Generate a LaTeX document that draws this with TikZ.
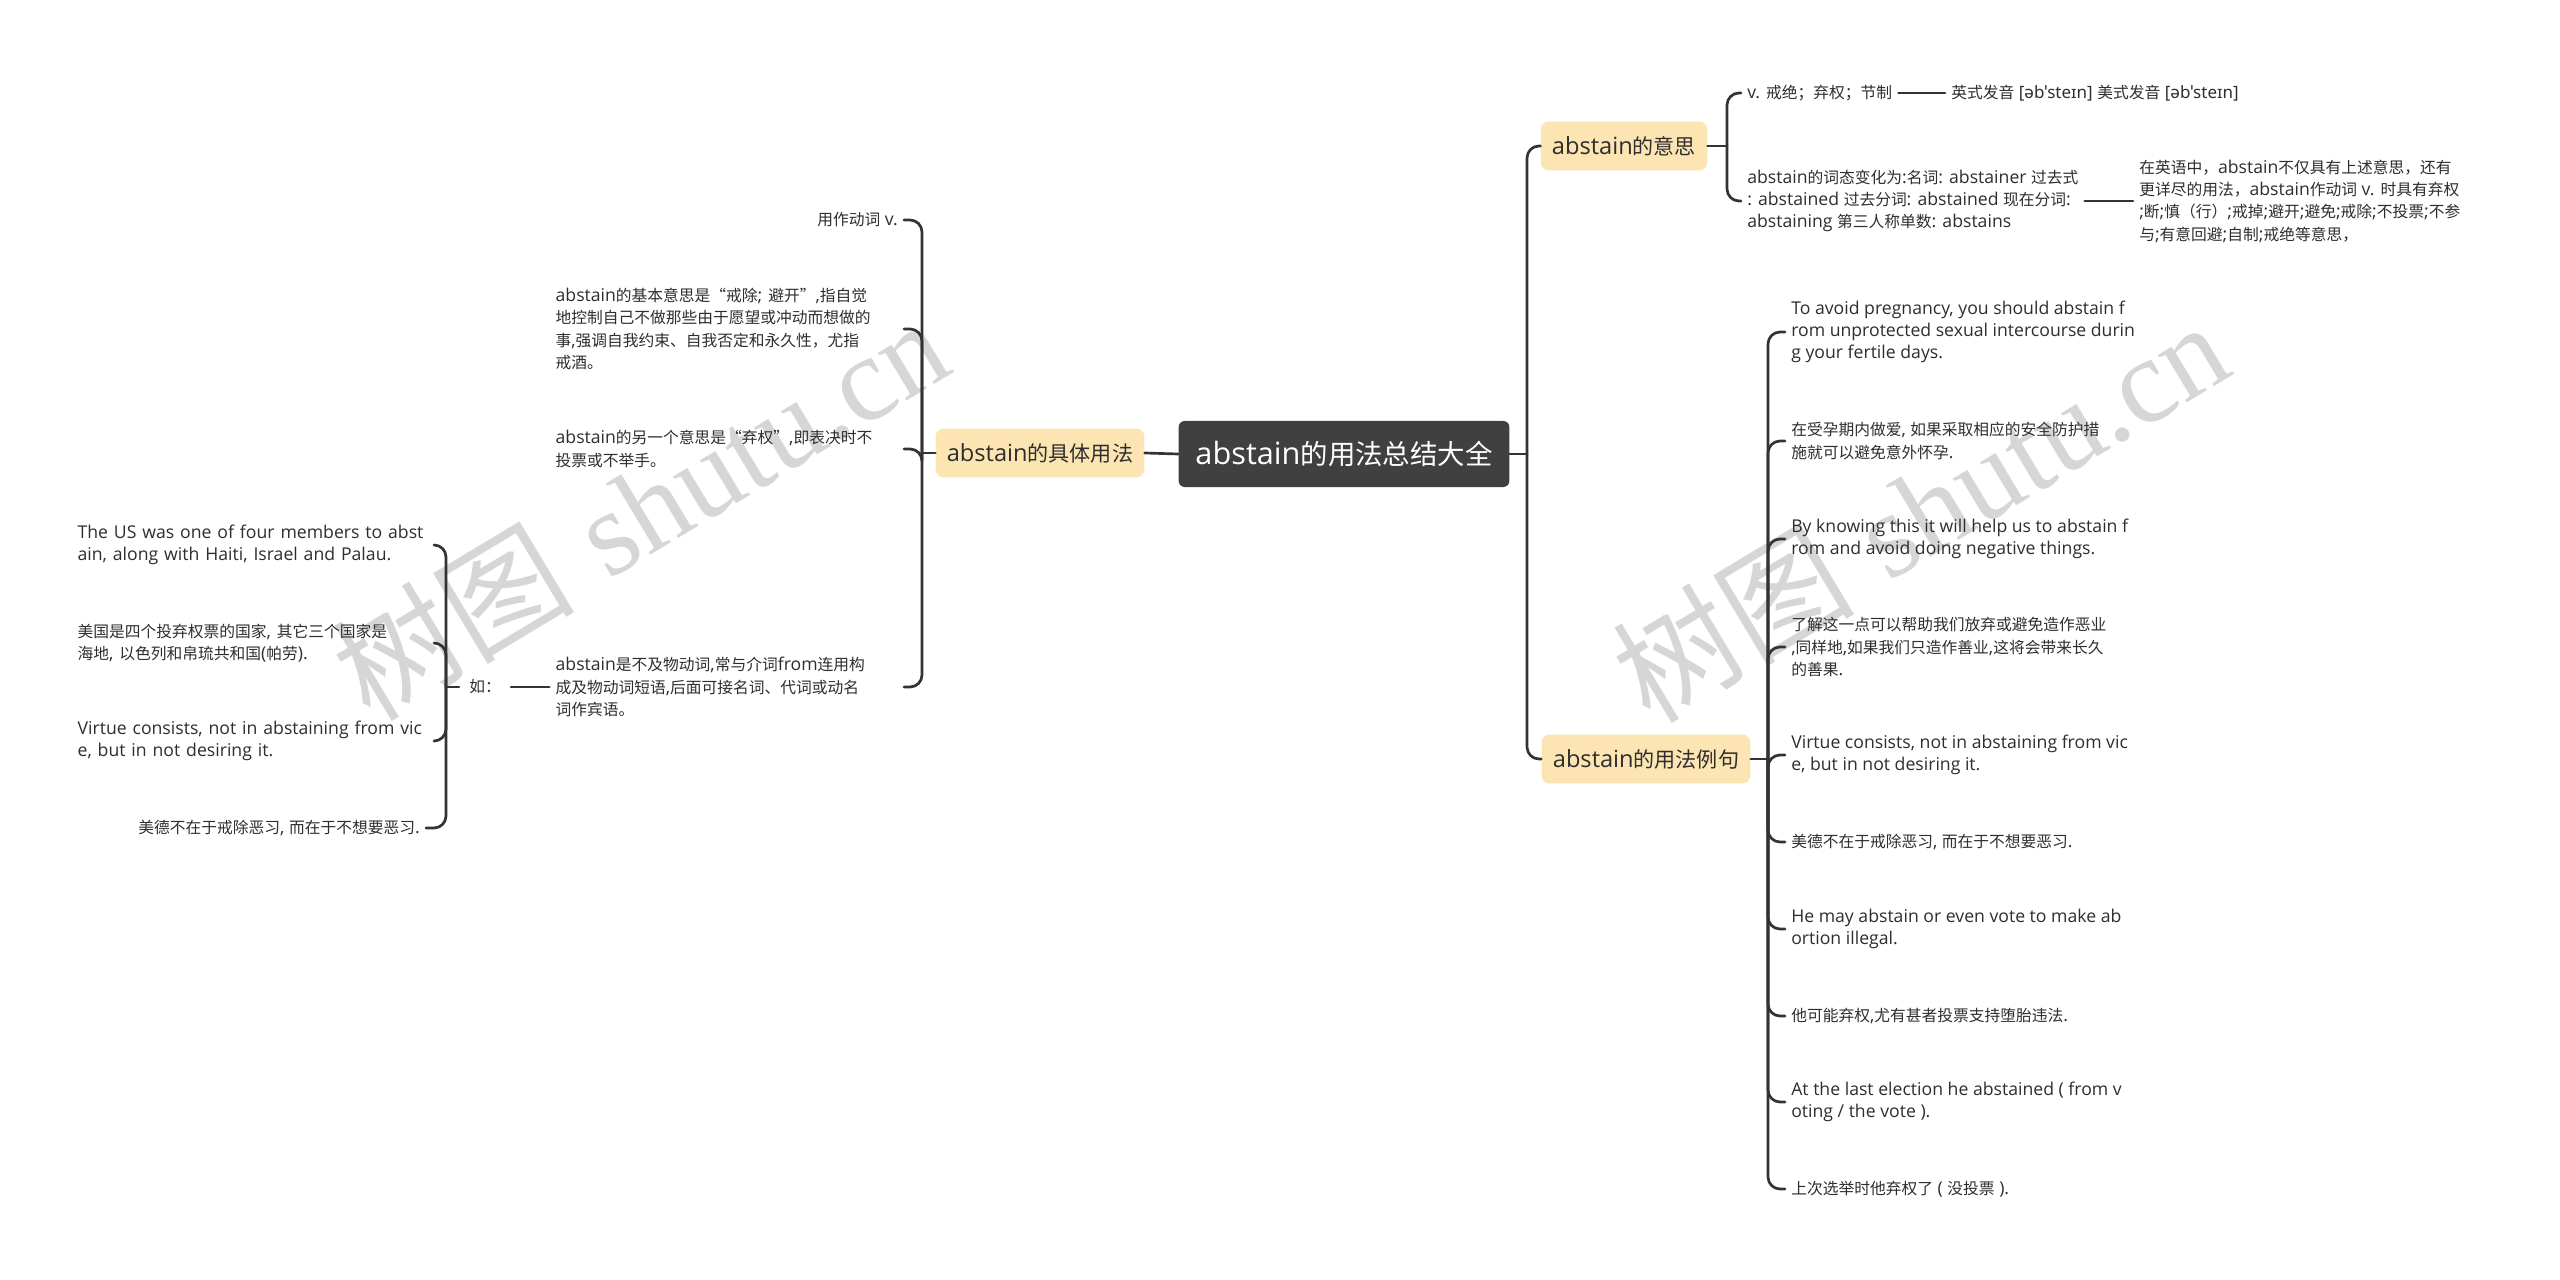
\documentclass[tikz,border=0pt]{standalone}
\usepackage{fontspec}
\setmainfont[Scale=1.12]{Open Sans}
\newfontfamily\latinfont[Scale=1.12]{Open Sans}
\newfontfamily\cjkfont{Noto Sans CJK SC}
\newfontfamily\ipafont[Scale=1.08]{Noto Sans}
\newfontfamily\wmlatin{Liberation Serif}

% 汉字自动换用 CJK 字体
\XeTeXinterchartokenstate=1
\newXeTeXintercharclass\cjkclass
\newcount\cjkc
\newcommand\cjkrange[2]{\cjkc=#1 \loop\XeTeXcharclass\cjkc=\cjkclass
  \ifnum\cjkc<#2 \advance\cjkc by 1 \repeat}
\cjkrange{"3000}{"303F}
\cjkrange{"4E00}{"9FFF}
\cjkrange{"FF00}{"FFEF}
\XeTeXcharclass"201C=\cjkclass
\XeTeXcharclass"201D=\cjkclass
\XeTeXinterchartoks 0 \cjkclass = {\cjkfont}
\XeTeXinterchartoks 4095 \cjkclass = {\cjkfont}
\XeTeXinterchartoks \cjkclass 0 = {\latinfont}
\XeTeXinterchartoks \cjkclass 4095 = {\latinfont}

\definecolor{topicbg}{HTML}{404040}
\definecolor{subbg}{HTML}{FCE5B2}
\definecolor{linecol}{HTML}{333333}
\definecolor{textcol}{HTML}{2E2E2E}
\definecolor{wmcol}{HTML}{D6D6D6}

\begin{document}
\begin{tikzpicture}[
  x=0.025cm, y=-0.025cm,
  line cap=round,
  line join=round,
  link/.style={draw=linecol, line width=1.9pt},
  elbow/.style={link, rounded corners=0.3cm},
  topic/.style={fill=topicbg, text=white, rounded corners=0.15cm,
    inner xsep=0.42cm, minimum height=1.65cm,
    font=\fontsize{19.5}{24}\selectfont},
  sub/.style={fill=subbg, text=textcol, rounded corners=0.2cm,
    inner xsep=0.28cm, minimum height=1.22cm,
    font=\fontsize{15}{18}\selectfont},
  leaf/.style={text=textcol, inner sep=0.15cm, align=left,
    font=\fontsize{11.2}{15.9}\selectfont},
  wide/.style={leaf, text width=8.55cm},
  wider/.style={leaf, text width=8.75cm},
  wmark/.style={text=wmcol, rotate=31, font=\fontsize{86}{88}\selectfont}
]
  \fill[white] (0,0) rectangle (2560,1280);
  \useasboundingbox (0,0) rectangle (2560,1280);

  % 水印
  \node[wmark] (wm1) at (640,508) {树图 {\wmlatin shutu.cn}};
  \node[wmark] (wm2) at (1920,510) {树图 {\wmlatin shutu.cn}};

  % 分支的拐点
  \coordinate (sL)  at (922,453);
  \coordinate (sR)  at (1527,454);
  \coordinate (sM)  at (1727,146);
  \coordinate (sE)  at (1768,759);
  \coordinate (sRu) at (446,687);

  % 中心主题与一级主题
  \node[topic] (root) at (1344,454) {abstain的用法总结大全};
  \node[sub] (jt) at (1040,453) {abstain的具体用法};
  \node[sub] (ys) at (1624,146) {abstain的意思};
  \node[sub] (lj) at (1646,759) {abstain的用法例句};

  % 具体用法
  \node[leaf, anchor=east] (k1) at (904,220) {用作动词 v.};
  \node[wide, anchor=east] (k2) at (904,329)
    {abstain的基本意思是“戒除; 避开”,指自觉\\地控制自己不做那些由于愿望或冲动而想做的\\事,强调自我约束、自我否定和永久性，尤指\\戒酒。};
  \node[wide, anchor=east] (k3) at (904,449)
    {abstain的另一个意思是“弃权”,即表决时不\\投票或不举手。};
  \node[wide, anchor=east] (k4) at (904,687)
    {abstain是不及物动词,常与介词from连用构\\成及物动词短语,后面可接名词、代词或动名\\词作宾语。};
  \node[leaf, inner xsep=0.25cm] (ru) at (485,687) {如：};

  % 如：下面的例句
  \node[wider, anchor=east] (r1) at (434,545)
    {The US was one of four members to abst\\ain, along with Haiti, Israel and Palau.};
  \node[wider, anchor=east] (r2) at (434,643)
    {美国是四个投弃权票的国家, 其它三个国家是\\海地, 以色列和帛琉共和国(帕劳).};
  \node[wider, anchor=east] (r3) at (434,741)
    {Virtue consists, not in abstaining from vic\\e, but in not desiring it.};
  \node[leaf, anchor=east] (r4) at (426,828) {美德不在于戒除恶习, 而在于不想要恶习.};

  % 意思
  \node[leaf, anchor=west] (m1) at (1741,93) {v. 戒绝；弃权；节制};
  \node[leaf, anchor=west] (p1) at (1945,93)
    {英式发音 {\ipafont[əbˈsteɪn]} 美式发音 {\ipafont[əbˈsteɪn]}};
  \node[leaf, anchor=west] (m2) at (1741,201)
    {abstain的词态变化为:名词: abstainer 过去式\\: abstained 过去分词: abstained 现在分词:\\abstaining 第三人称单数: abstains};
  \node[leaf, anchor=west] (n2) at (2133,201)
    {在英语中，abstain不仅具有上述意思，还有\\更详尽的用法，abstain作动词 v. 时具有弃权\\;断;慎（行）;戒掉;避开;避免;戒除;不投票;不参\\与;有意回避;自制;戒绝等意思，};

  % 用法例句
  \node[leaf, anchor=west] (e1) at (1785,332)
    {To avoid pregnancy, you should abstain f\\rom unprotected sexual intercourse durin\\g your fertile days.};
  \node[leaf, anchor=west] (e2) at (1785,441)
    {在受孕期内做爱, 如果采取相应的安全防护措\\施就可以避免意外怀孕.};
  \node[leaf, anchor=west] (e3) at (1785,539)
    {By knowing this it will help us to abstain f\\rom and avoid doing negative things.};
  \node[leaf, anchor=west] (e4) at (1785,647)
    {了解这一点可以帮助我们放弃或避免造作恶业\\,同样地,如果我们只造作善业,这将会带来长久\\的善果.};
  \node[leaf, anchor=west] (e5) at (1785,755)
    {Virtue consists, not in abstaining from vic\\e, but in not desiring it.};
  \node[leaf, anchor=west] (e6) at (1785,842) {美德不在于戒除恶习, 而在于不想要恶习.};
  \node[leaf, anchor=west] (e7) at (1785,929)
    {He may abstain or even vote to make ab\\ortion illegal.};
  \node[leaf, anchor=west] (e8) at (1785,1016) {他可能弃权,尤有甚者投票支持堕胎违法.};
  \node[leaf, anchor=west] (e9) at (1785,1102)
    {At the last election he abstained ( from v\\oting / the vote ).};
  \node[leaf, anchor=west] (e10) at (1785,1189) {上次选举时他弃权了 ( 没投票 ).};

  % 中心连线
  \draw[link] (root.west) -- (jt.east);
  \draw[link] (root.east) -- (sR);
  \draw[elbow] (sR) |- (ys.west);
  \draw[elbow] (sR) |- (lj.west);

  % 左侧连线
  \draw[link] (jt.west) -- (sL);
  \draw[elbow] (sL) |- (k1.east);
  \draw[elbow] (sL) |- (k2.east);
  \draw[elbow] (sL) |- (k3.east);
  \draw[elbow] (sL) |- (k4.east);
  \draw[link] (k4.west) -- (ru.east);
  \draw[link] (ru.west) -- (sRu);
  \draw[elbow] (sRu) |- (r1.east);
  \draw[elbow] (sRu) |- (r2.east);
  \draw[elbow] (sRu) |- (r3.east);
  \draw[elbow] (sRu) |- (r4.east);

  % 右侧连线
  \draw[link] (ys.east) -- (sM);
  \draw[elbow] (sM) |- (m1.west);
  \draw[elbow] (sM) |- (m2.west);
  \draw[link] (m1.east) -- (p1.west);
  \draw[link] (m2.east) -- (n2.west);

  \draw[link] (lj.east) -- (sE);
  \draw[elbow] (sE) |- (e1.west);
  \draw[elbow] (sE) |- (e2.west);
  \draw[elbow] (sE) |- (e3.west);
  \draw[elbow] (sE) |- (e4.west);
  \draw[elbow] (sE) |- (e5.west);
  \draw[elbow] (sE) |- (e6.west);
  \draw[elbow] (sE) |- (e7.west);
  \draw[elbow] (sE) |- (e8.west);
  \draw[elbow] (sE) |- (e9.west);
  \draw[elbow] (sE) |- (e10.west);
\end{tikzpicture}
\end{document}
